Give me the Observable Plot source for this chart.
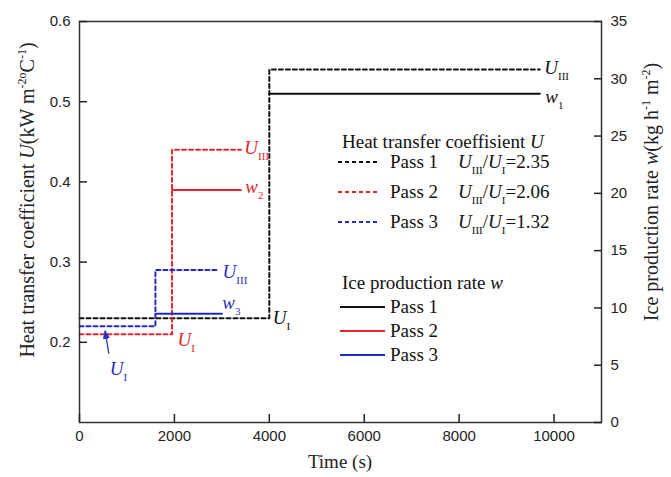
<!DOCTYPE html>
<html><head><meta charset="utf-8">
<script src="https://cdn.jsdelivr.net/npm/d3@7"></script>
<script src="https://cdn.jsdelivr.net/npm/@observablehq/plot@0.6"></script>
<style>body{margin:0;background:#fff} svg{display:block}</style>
</head><body><div id="chart"></div>
<script>
const passes = ["Pass 1", "Pass 2", "Pass 3"];
const passColors = ["#111111", "#e3262b", "#1f2cc4"];
const switchTime = [4000, 1950, 1600];
const uEndTime = [9700, 3400, 2900];
const wEndTime = [9700, 3400, 3000];
const uInitial = [0.23, 0.21, 0.22];
const uFinal = [0.54, 0.44, 0.29];
const iceRate = [28.7, 20.3, 9.5];
const ratioLabels = ["2.35", "2.06", "1.32"];
const xTicks = [0, 2000, 4000, 6000, 8000, 10000];
const uTicks = [0.2, 0.3, 0.4, 0.5, 0.6];
const wTicks = [0, 5, 10, 15, 20, 25, 30, 35];
const xDomain = [0, 11000];
const uDomain = [0.1, 0.6];
const wDomain = [0, 35];

const wToU = d3.scaleLinear().domain(wDomain).range(uDomain);

const uData = passes.flatMap((p, i) => [
  {pass: p, t: 0, u: uInitial[i]},
  {pass: p, t: switchTime[i], u: uFinal[i]},
  {pass: p, t: uEndTime[i], u: uFinal[i]}
]);
const wData = passes.flatMap((p, i) => [
  {pass: p, t: switchTime[i], u: wToU(iceRate[i])},
  {pass: p, t: wEndTime[i], u: wToU(iceRate[i])}
]);

const plot = Plot.plot({
  width: 671, height: 477,
  marginLeft: 79, marginRight: 70, marginTop: 21, marginBottom: 55,
  x: {domain: xDomain},
  y: {domain: uDomain},
  color: {domain: passes, range: passColors},
  style: {fontFamily: "Liberation Sans", fontSize: "15px", color: "#222", background: "white", overflow: "visible"},
  marks: [
    Plot.line(uData, {x: "t", y: "u", z: "pass", stroke: "pass", curve: "step-after", strokeWidth: 2, strokeDasharray: "4,3"}),
    Plot.line(wData, {x: "t", y: "u", z: "pass", stroke: "pass", curve: "step-after", strokeWidth: 2}),
    Plot.frame({stroke: "#333", strokeWidth: 1.5}),
    Plot.axisX(xTicks, {anchor: "bottom", tickSize: -8, tickPadding: 16, label: null, tickFormat: d => String(d), fill: "#222", strokeWidth: 1.5}),
    Plot.axisY(uTicks, {anchor: "left", tickSize: -8, tickPadding: 17, label: null, tickFormat: d3.format(".1f"), fill: "#222", strokeWidth: 1.5}),
    Plot.axisY(wTicks.map(wToU), {anchor: "right", tickSize: -8, tickPadding: 17, label: null, tickFormat: d => String(Math.round(wToU.invert(d))), fill: "#222", strokeWidth: 1.5})
  ]
});
document.getElementById("chart").append(plot);

const svg = d3.select(plot);
const sx = v => plot.scale("x").apply(v);
const sy = v => plot.scale("y").apply(v);
const g = svg.append("g");

function rich(x, y, parts, {size = 19, fill = "#111", anchor = "start", rotate = 0} = {}) {
  const t = g.append("text")
    .attr("transform", `translate(${x},${y}) rotate(${rotate})`)
    .attr("font-family", "Liberation Serif").attr("font-size", size)
    .attr("fill", fill).attr("text-anchor", anchor);
  let shift = 0;
  for (const p of parts) {
    const target = p.sub ? (p.shift ?? 6) : p.sup ? -(p.shift ?? 8) : 0;
    const ts = t.append("tspan").text(p.t).attr("dy", target - shift);
    if (p.dx) ts.attr("dx", p.dx);
    if (p.sub || p.sup) ts.attr("font-size", p.size ?? 11);
    if (p.italic) ts.attr("font-style", "italic");
    shift = target;
  }
  return t;
}
const U = {t: "U", italic: true};
const sub = (s, o = {}) => ({t: s, sub: true, ...o});
const sup = (s, o = {}) => ({t: s, sup: true, ...o});

// annotations
const textColors = ["#111", "#e3262b", "#2a30c0"];
rich(sx(uEndTime[0]) + 5, sy(uFinal[0]) + 5, [U, sub("III")], {fill: textColors[0]});
rich(sx(wEndTime[0]) + 6, sy(wToU(iceRate[0])) + 10, [{t: "w", italic: true}, sub("1")], {fill: textColors[0]});
rich(sx(uEndTime[1]) + 4, sy(uFinal[1]) + 5, [U, sub("III")], {fill: textColors[1]});
rich(sx(wEndTime[1]) + 5, sy(wToU(iceRate[1])) + 4, [{t: "w", italic: true}, sub("2")], {fill: textColors[1]});
rich(sx(uEndTime[2]) + 6, sy(uFinal[2]) + 8, [U, sub("III")], {fill: textColors[2]});
rich(sx(wEndTime[2]) + 1, sy(wToU(iceRate[2])) - 4, [{t: "w", italic: true}, sub("3")], {fill: textColors[2]});
rich(sx(switchTime[0]) + 4, sy(uInitial[0]) + 6, [U, sub("I")], {fill: textColors[0]});
rich(sx(switchTime[1]) + 6, sy(uInitial[1]) + 12, [U, sub("I")], {fill: textColors[1]});
rich(sx(650), sy(uInitial[2]) + 49, [U, sub("I")], {fill: textColors[2]});
// arrow to blue U_I line
const ax0 = sx(650) - 1, ay0 = sy(uInitial[2]) + 28;
const ax1 = sx(550), ay1 = sy(uInitial[2]) + 5;
g.append("defs").append("marker").attr("id", "ah").attr("viewBox", "0 0 10 10")
  .attr("refX", 9).attr("refY", 5).attr("markerWidth", 7).attr("markerHeight", 7).attr("orient", "auto")
  .append("path").attr("d", "M0,1L10,5L0,9z").attr("fill", textColors[2]);
g.append("line").attr("x1", ax0).attr("y1", ay0).attr("x2", ax1).attr("y2", ay1)
  .attr("stroke", textColors[2]).attr("stroke-width", 1.3).attr("marker-end", "url(#ah)");

// legend
rich(342, 148, [{t: "Heat transfer coeffisient "}, U]);
passes.forEach((p, i) => {
  const y = 162 + i * 30;
  g.append("line").attr("x1", 338).attr("x2", 378).attr("y1", y).attr("y2", y)
    .attr("stroke", passColors[i]).attr("stroke-width", 2).attr("stroke-dasharray", "4,3");
  rich(390, y + 6, [{t: p}]);
  rich(458, y + 6, [U, sub("III"), {t: "/"}, U, sub("I"), {t: "=" + ratioLabels[i]}]);
});
rich(342, 289, [{t: "Ice production rate "}, {t: "w", italic: true}]);
passes.forEach((p, i) => {
  const y = 307 + i * 24;
  g.append("line").attr("x1", 340).attr("x2", 385).attr("y1", y).attr("y2", y)
    .attr("stroke", passColors[i]).attr("stroke-width", 2);
  rich(390, y + 6, [{t: p}]);
});

// axis titles
rich(340, 468, [{t: "Time (s)"}], {anchor: "middle", size: 19, fill: "#222"});
rich(34, 200, [{t: "Heat transfer coefficient "}, U, {t: "(kW m"}, sup("-2o", {size: 12}), {t: "C"}, sup("-1", {size: 12}), {t: ")"}],
  {anchor: "middle", size: 20, rotate: -90, fill: "#222"});
rich(658, 192, [{t: "Ice production rate "}, {t: "w", italic: true}, {t: "(kg h"}, sup("-1", {size: 12}), {t: " m"}, sup("-2", {size: 12}), {t: ")"}],
  {anchor: "middle", size: 20, rotate: -90, fill: "#222"});
</script></body></html>
